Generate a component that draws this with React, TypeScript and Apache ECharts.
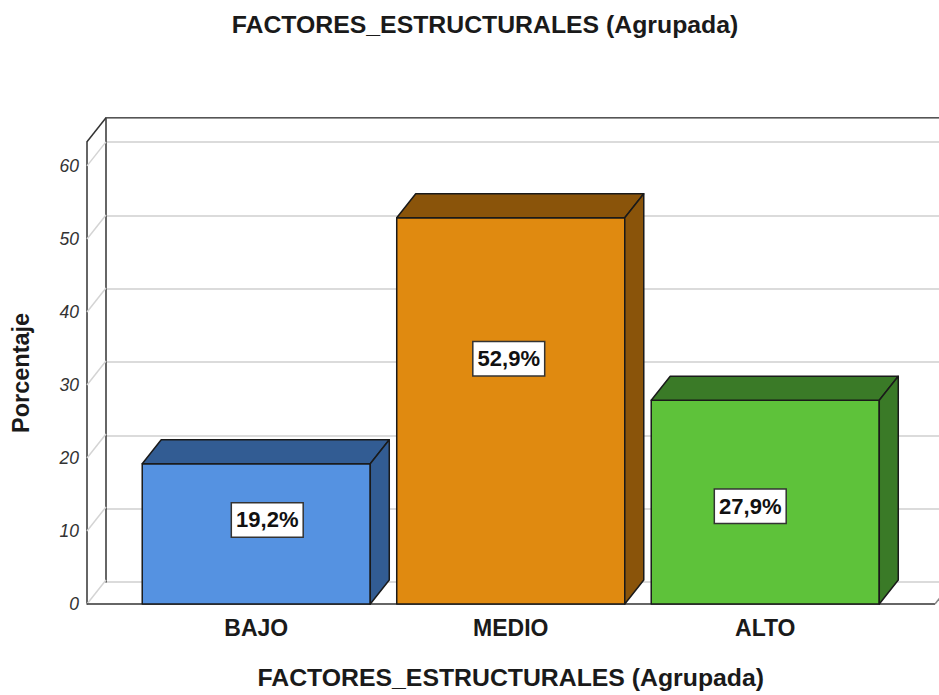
import React, { useEffect, useRef } from "react";
import * as echarts from "echarts";

// ---- data ----
const CATEGORIES = ["BAJO", "MEDIO", "ALTO"];
const VALUES = [19.2, 52.9, 27.9];
const Y_TICKS = [0, 10, 20, 30, 40, 50, 60];
const Y_MAX = 63.3;
const TITLE = "FACTORES_ESTRUCTURALES (Agrupada)";
const X_NAME = "FACTORES_ESTRUCTURALES (Agrupada)";
const Y_NAME = "Porcentaje";

// ---- styles ----
const FRONT_COLORS = ["#5592e1", "#e08a10", "#5ec23a"];
const DARK_COLORS = ["#325c93", "#8a540a", "#3a7a27"];
const LABEL_NUDGE = [
  [11, -14],
  [-2, -52],
  [-15, 4],
];
const FONT = "'Liberation Sans', Arial, sans-serif";

// ---- layout ----
const W = 939;
const H = 695;
const FRONT_LEFT = 87;
const FRONT_RIGHT = 935;
const FLOOR_Y = 606;
const TOP_Y = 141.8;
const DX = 19;
const DY = -24;
const CAT_LEFT = 129;
const CAT_RIGHT = 892.5;
const BAR_RATIO = 0.896;

const fmt = (v: number) => v.toFixed(1).replace(".", ",") + "%";

export default function App() {
  const ref = useRef<HTMLDivElement>(null);
  useEffect(() => {
    if (!ref.current) return;
    const chart = echarts.init(ref.current, undefined, { renderer: "svg" });
    const option: any = {
      animation: false,
      backgroundColor: "#ffffff",
      grid: [
        {
          left: CAT_LEFT,
          right: W - CAT_RIGHT,
          top: TOP_Y,
          bottom: H - FLOOR_Y,
        },
        {
          left: FRONT_LEFT + DX,
          right: 0,
          top: TOP_Y + DY,
          bottom: H - FLOOR_Y - DY,
        },
      ],
      xAxis: [
        {
          type: "category",
          gridIndex: 0,
          data: CATEGORIES,
          axisLine: { show: false },
          axisTick: { show: false },
          axisLabel: {
            margin: 12,
            fontFamily: FONT,
            fontSize: 23,
            fontWeight: "bold",
            color: "#1a1a1a",
          },
          name: X_NAME,
          nameLocation: "middle",
          nameGap: 61,
          nameTextStyle: {
            fontFamily: FONT,
            fontSize: 24.8,
            fontWeight: "bold",
            color: "#1a1a1a",
          },
        },
        { type: "value", gridIndex: 1, show: false, min: 0, max: 1 },
      ],
      yAxis: [
        {
          type: "value",
          gridIndex: 0,
          min: 0,
          max: Y_MAX,
          interval: 10,
          offset: CAT_LEFT - FRONT_LEFT,
          axisLine: { show: true, lineStyle: { color: "#333333", width: 1.5 } },
          axisTick: { show: false },
          splitLine: { show: false },
          axisLabel: {
            margin: 8,
            padding: [5, 0, 0, 0],
            fontFamily: FONT,
            fontSize: 17.5,
            fontStyle: "italic",
            color: "#333333",
            showMaxLabel: false,
            formatter: (v: number) => (Y_TICKS.includes(v) ? String(v) : ""),
          },
          name: Y_NAME,
          nameLocation: "middle",
          nameGap: 54,
          nameRotate: 90,
          nameTextStyle: {
            fontFamily: FONT,
            fontSize: 23.5,
            fontWeight: "bold",
            color: "#1a1a1a",
          },
        },
        {
          type: "value",
          gridIndex: 1,
          min: 0,
          max: Y_MAX,
          interval: 10,
          axisLine: { show: true, lineStyle: { color: "#333333", width: 1.5 } },
          axisTick: { show: false },
          axisLabel: { show: false },
          splitLine: { show: true, lineStyle: { color: "#cfcfcf", width: 1.5 } },
        },
      ],
      series: [
        {
          type: "custom",
          xAxisIndex: 0,
          yAxisIndex: 0,
          z: 5,
          data: VALUES.map((v, i) => [i, v]),
          encode: { x: 0, y: 1 },
          renderItem: (params: any, api: any) => {
            const i = params.dataIndex;
            const cat = api.value(0);
            const val = api.value(1);
            const base = api.coord([cat, 0]);
            const top = api.coord([cat, val]);
            const w = api.size([1, 0])[0] * BAR_RATIO;
            const x0 = base[0] - w / 2;
            const x1 = base[0] + w / 2;
            const yb = base[1];
            const yt = top[1];
            const stroke = { stroke: "#1a1a1a", lineWidth: 1.5, lineJoin: "round" };
            return {
              type: "group",
              children: [
                {
                  type: "polygon",
                  shape: { points: [[x0, yt], [x1, yt], [x1, yb], [x0, yb]] },
                  style: { fill: FRONT_COLORS[i], ...stroke },
                },
                {
                  type: "polygon",
                  shape: {
                    points: [[x0, yt], [x0 + DX, yt + DY], [x1 + DX, yt + DY], [x1, yt]],
                  },
                  style: { fill: DARK_COLORS[i], ...stroke },
                },
                {
                  type: "polygon",
                  shape: {
                    points: [[x1, yt], [x1 + DX, yt + DY], [x1 + DX, yb + DY], [x1, yb]],
                  },
                  style: { fill: DARK_COLORS[i], ...stroke },
                },
                {
                  type: "text",
                  x: base[0] + LABEL_NUDGE[i][0],
                  y: (yt + yb) / 2 + LABEL_NUDGE[i][1],
                  style: {
                    text: fmt(val),
                    fontFamily: FONT,
                    fontSize: 22,
                    fontWeight: "bold",
                    fill: "#111111",
                    align: "center",
                    verticalAlign: "middle",
                    backgroundColor: "#ffffff",
                    borderColor: "#333333",
                    borderWidth: 1.5,
                    padding: [6, 4, 5, 4],
                  },
                },
              ],
            };
          },
        },
      ],
    };
    chart.setOption(option);

    const yF = (v: number) => chart.convertToPixel({ yAxisIndex: 0 } as any, v) as number;
    const graphics: any[] = [];
    Y_TICKS.forEach((v) => {
      const y = yF(v);
      graphics.push({
        type: "line",
        z: 1,
        shape: { x1: FRONT_LEFT, y1: y, x2: FRONT_LEFT + DX, y2: y + DY },
        style: { stroke: "#d4d4d4", lineWidth: 1.5 },
      });
    });
    const yTop = yF(Y_MAX);
    const yFloor = yF(0);
    graphics.push(
      {
        type: "line",
        z: 3,
        shape: { x1: FRONT_LEFT, y1: yTop, x2: FRONT_LEFT + DX, y2: yTop + DY },
        style: { stroke: "#333333", lineWidth: 1.5 },
      },
      {
        type: "line",
        z: 3,
        shape: { x1: FRONT_LEFT + DX, y1: yTop + DY, x2: W, y2: yTop + DY },
        style: { stroke: "#555555", lineWidth: 1.5 },
      },
      {
        type: "line",
        z: 3,
        shape: { x1: FRONT_LEFT, y1: yFloor, x2: FRONT_RIGHT, y2: yFloor },
        style: { stroke: "#333333", lineWidth: 1.5 },
      },
      {
        type: "line",
        z: 3,
        shape: { x1: FRONT_RIGHT, y1: yFloor, x2: FRONT_RIGHT + DX, y2: yFloor + DY },
        style: { stroke: "#888888", lineWidth: 1.5 },
      },
      {
        type: "text",
        z: 3,
        x: 485,
        y: 12,
        style: {
          text: TITLE,
          fontFamily: FONT,
          fontSize: 24.8,
          fontWeight: "bold",
          fill: "#1a1a1a",
          align: "center",
          verticalAlign: "top",
        },
      }
    );
    chart.setOption({ graphic: { elements: graphics } });

    return () => chart.dispose();
  }, []);
  return (
    <div
      ref={ref}
      style={{ position: "fixed", left: 0, top: 0, width: W, height: H, background: "#fff" }}
    />
  );
}
